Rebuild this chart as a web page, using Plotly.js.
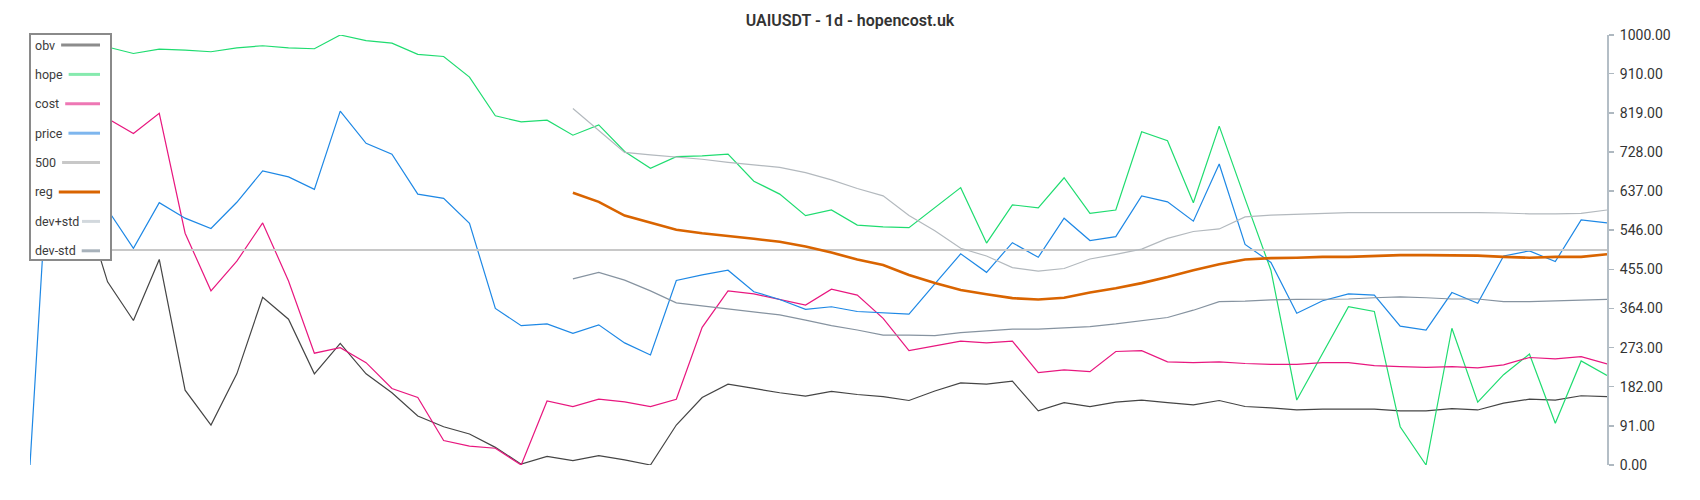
<!DOCTYPE html>
<html>
<head>
<meta charset="utf-8">
<script src="https://cdn.plot.ly/plotly-3.0.1.min.js"></script>
<style>
  html, body { margin: 0; padding: 0; background: #ffffff; }
  #chart { width: 1700px; height: 500px; }
</style>
</head>
<body>
<div id="chart"></div>
<script>
// ---- data ----
const days = [0,1,2,3,4,5,6,7,8,9,10,11,12,13,14,15,16,17,18,19,20,21,22,23,24,25,26,27,28,29,30,
  31,32,33,34,35,36,37,38,39,40,41,42,43,44,45,46,47,48,49,50,51,52,53,54,55,56,57,58,59,60,61];

const obv = [880,760,620,426,336,478,174,93,212,390,339,212,283,212,168,
  114,89,72,41,2,20,10,22,12,0,93,157,188,178,168,
  160,171,164,159,150,172,191,188,195,126,145,136,146,151,145,140,
  150,136,133,128,130,130,130,126,126,131,128,144,153,151,161,159];

const hope = [985,975,968,972,957,967,965,961,970,975,970,968,1000,987,981,
  955,950,902,812,798,802,767,791,729,690,717,719,723,660,630,
  580,593,558,554,552,598,645,516,605,598,668,585,593,775,754,610,
  788,619,453,151,259,368,357,89,0,318,146,210,258,97,242,208];

const cost = [920,1000,860,806,771,818,539,405,474,563,428,260,273,238,178,
  157,57,44,39,0,149,136,153,147,136,153,320,405,398,385,
  372,409,395,341,266,277,288,284,288,215,221,217,264,266,240,238,
  240,236,234,234,238,238,231,229,227,229,226,233,250,247,252,235];

const price = [0,1000,760,594,504,610,574,550,611,684,670,641,823,748,723,
  630,620,562,364,324,328,306,326,284,256,429,442,453,403,385,
  362,368,357,354,351,421,491,448,517,483,574,522,531,626,612,567,
  700,513,471,353,382,398,395,323,314,401,376,486,498,473,570,563];

const level500 = 500;

const reg = [null,null,null,null,null,null,null,null,null,null,null,null,null,null,null,
  null,null,null,null,null,null,633,612,580,563,547,539,533,526,519,
  508,494,478,465,442,423,407,397,388,385,389,401,411,423,437,453,
  467,478,481,482,484,484,486,488,488,487,487,484,482,484,484,490];

const devPlus = [null,null,null,null,null,null,null,null,null,null,null,null,null,null,null,
  null,null,null,null,null,null,829,778,727,721,716,711,704,698,692,
  680,663,643,626,580,545,504,486,459,451,457,479,490,502,527,543,
  549,577,581,583,585,587,587,587,588,588,587,586,584,584,585,593];

const devMinus = [null,null,null,null,null,null,null,null,null,null,null,null,null,null,null,
  null,null,null,null,null,null,433,448,430,405,377,370,364,357,349,
  337,324,314,302,302,301,308,312,316,316,319,322,328,336,343,360,
  380,381,384,385,385,386,389,391,389,386,386,380,380,382,383,385];

const yTicks = [0,91,182,273,364,455,546,637,728,819,910,1000];
const legendNames = ['obv','hope','cost','price','500','reg','dev+std','dev-std'];
const title = 'UAIUSDT - 1d - hopencost.uk';

// ---- styles ----
const lineColors = ['#454545','#1fdc70','#e8177f','#1e88e5','#c8c8c8','#d96400','#b3b9be','#8693a0'];
const swatchColors = ['#8c8c8c','#86eaae','#ee77b4','#7eb6ee','#c8c8c8','#d96400','#d2d8dd','#a8b2bb'];
const lineWidths = [1.2,1.2,1.2,1.2,2,2.6,1.2,1.2];

const five = days.map(() => level500);
const series = [obv, hope, cost, price, five, reg, devPlus, devMinus];

const traces = series.map((s, i) => ({
  type: 'scatter', mode: 'lines', x: days, y: s, name: legendNames[i],
  line: { color: lineColors[i], width: lineWidths[i] },
  connectgaps: false, hoverinfo: 'skip', showlegend: false
}));

// plot area in pixels
const W = 1700, H = 500, L = 30, R = 93, T = 35, B = 35;
const pw = W - L - R, ph = H - T - B;
const px = v => (v - L) / pw;
const py = v => (H - B - v) / ph;

// custom legend (text left, swatch right)
const legendFont = 12.5;
const canvas = document.createElement('canvas');
const ctx = canvas.getContext('2d');
ctx.font = legendFont + 'px Roboto';
const shapes = [{
  type: 'rect', xref: 'paper', yref: 'paper', layer: 'above',
  x0: px(30), x1: px(111), y0: py(260), y1: py(34),
  fillcolor: '#ffffff', line: { color: '#8a8a8a', width: 2 }
}];
const annotations = [];
legendNames.forEach((n, i) => {
  const cy = 45 + 29.4 * i;
  const tw = ctx.measureText(n).width;
  annotations.push({
    xref: 'paper', yref: 'paper', x: px(33), y: py(cy), xanchor: 'left', yanchor: 'middle',
    text: n, showarrow: false, font: { family: 'Roboto', size: legendFont, color: '#3c3c3c' }
  });
  shapes.push({
    type: 'line', xref: 'paper', yref: 'paper', layer: 'above',
    x0: px(Math.min(35 + tw + 6, 82)), x1: px(100), y0: py(cy), y1: py(cy),
    line: { color: swatchColors[i], width: 3 }
  });
});

const layout = {
  width: W, height: H,
  margin: { l: L, r: R, t: T, b: B, pad: 0 },
  paper_bgcolor: '#ffffff', plot_bgcolor: '#ffffff',
  showlegend: false,
  title: { text: title, x: 0.5, xref: 'container', xanchor: 'center', y: 0.96, yref: 'container', yanchor: 'middle',
    font: { family: 'Roboto', size: 16, color: '#333333', weight: 600 } },
  xaxis: { range: [0, 61], visible: false, fixedrange: true },
  yaxis: {
    side: 'right', range: [0, 1000], tickmode: 'array', tickvals: yTicks,
    ticktext: yTicks.map(v => v.toFixed(2)),
    ticks: 'outside', ticklen: 5, tickwidth: 1.5, tickcolor: '#aeb8c0',
    showline: true, linecolor: '#b4bec6', linewidth: 2,
    showgrid: false, zeroline: false, ticklabelstandoff: 3,
    tickfont: { family: 'Roboto', size: 14, color: '#333333' }
  },
  shapes: shapes, annotations: annotations, hovermode: false
};

Plotly.newPlot('chart', traces, layout, { displayModeBar: false, staticPlot: true });
</script>
</body>
</html>
